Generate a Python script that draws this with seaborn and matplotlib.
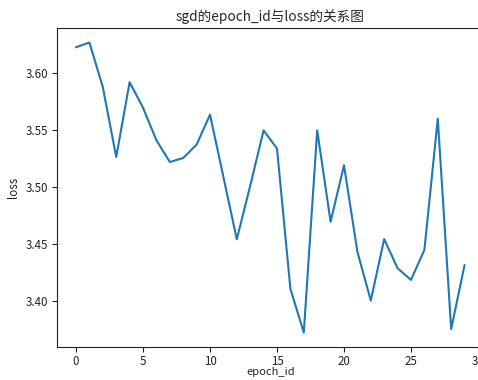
import matplotlib
matplotlib.use("Agg")
import matplotlib.pyplot as plt
import seaborn as sns
import pandas as pd

epoch_id = list(range(30))
loss = [3.6228, 3.6270, 3.5877, 3.5263, 3.5921, 3.5696, 3.5410, 3.5219, 3.5254, 3.5372,
        3.5635, 3.5087, 3.4539, 3.5010, 3.5497, 3.5337, 3.4103, 3.3719, 3.5497, 3.4693,
        3.5190, 3.4430, 3.4000, 3.4541, 3.4284, 3.4182, 3.4445, 3.5600, 3.3749, 3.4313]

sns.set_style("ticks")
plt.rcParams['font.family'] = ['Noto Sans CJK SC', 'DejaVu Sans']
plt.rcParams['axes.unicode_minus'] = False

W, H = 478, 380
fig = plt.figure(figsize=(W / 100, H / 100), dpi=100)
left, right, top, bottom = 56.6, 484.0, 28.0, 347.0
ax = fig.add_axes([left / W, (H - bottom) / H, (right - left) / W, (bottom - top) / H])

df = pd.DataFrame({"epoch_id": epoch_id, "loss": loss})
sns.lineplot(data=df, x="epoch_id", y="loss", ax=ax, color="#1f77b4", linewidth=1.5)

ax.set_xticks([0, 5, 10, 15, 20, 25, 30])
ax.set_yticks([3.40, 3.45, 3.50, 3.55, 3.60])
ax.set_yticklabels(["3.40", "3.45", "3.50", "3.55", "3.60"])
ax.tick_params(labelsize=8.3, length=3.5, width=0.8, colors="#222222", pad=2.5)
ax.set_xlabel("epoch_id", fontsize=8.0, labelpad=-1)
ax.set_ylabel("loss", fontsize=8.3, labelpad=4)
ax.set_title("sgd的epoch_id与loss的关系图", fontsize=9.8, pad=5)
for s in ax.spines.values():
    s.set_linewidth(0.8)
    s.set_color("#222222")

fig.savefig("out.png", dpi=100)
